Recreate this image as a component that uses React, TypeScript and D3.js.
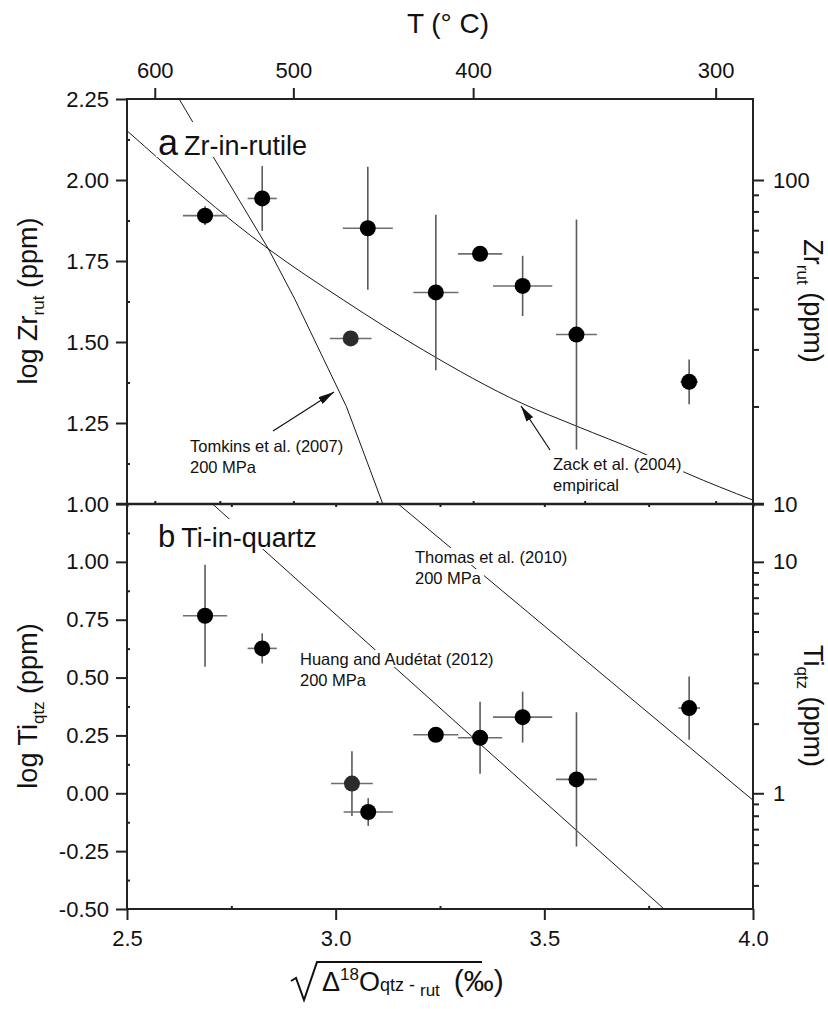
import React, { useRef, useEffect } from 'react';
import * as d3 from 'd3';

// tamanho e posição do quadro
const width = 828;
const height = 1009;
const left = 127;
const right = 753;
const top = 99;
const mid = 504;
const bottom = 909;
const font = 'Liberation Sans, Arial, Helvetica, sans-serif';

// painel a: Zr-in-rutile
const zrX = [2.687, 2.824, 3.036, 3.077, 3.24, 3.346, 3.448, 3.577, 3.847];
const zrLog = [1.89, 1.943, 1.511, 1.851, 1.653, 1.772, 1.673, 1.523, 1.377];
const zrXErr = [0.053, 0.035, 0.05, 0.06, 0.054, 0.053, 0.071, 0.049, 0.021];
const zrYErr = [0.029, 0.1, 0, 0.19, 0.24, 0.01, 0.093, 0.355, 0.069];
const zrFill = ['#000', '#000', '#2b2b2b', '#000', '#000', '#000', '#000', '#000', '#000'];

// painel b: Ti-in-quartz
const tiX = [2.687, 2.824, 3.039, 3.078, 3.24, 3.346, 3.448, 3.577, 3.847];
const tiLog = [0.767, 0.626, 0.042, -0.081, 0.253, 0.24, 0.329, 0.06, 0.368];
const tiXErr = [0.053, 0.035, 0.05, 0.059, 0.054, 0.053, 0.071, 0.049, 0.026];
const tiYErr = [0.22, 0.065, 0.14, 0.06, 0, 0.156, 0.11, 0.29, 0.137];
const tiFill = ['#000', '#000', '#2b2b2b', '#000', '#000', '#000', '#000', '#000', '#000'];

// curvas de calibração
const tomkinsX = [2.625, 2.711, 2.839, 2.903, 3.026, 3.113];
const tomkinsY = [2.25, 2.062, 1.787, 1.63, 1.3, 1.0];
const zackX = [2.5, 2.839, 3.018, 3.21, 3.446, 3.578, 3.729, 3.841, 4.0];
const zackY = [2.152, 1.787, 1.63, 1.475, 1.311, 1.24, 1.161, 1.095, 1.012];
const thomasX = [3.15, 4.0];
const thomasY = [1.25, -0.03];
const huangX = [2.705, 3.787];
const huangY = [1.25, -0.5];

// eixos
const xTicks = [2.5, 3.0, 3.5, 4.0];
const xMinor = [2.75, 3.25, 3.75];
const tempTicks = [600, 500, 400, 300];
const tempMinor = [550, 450, 350];
const tempConst = 2242; // sqrt(Δ) * T(K)
const zrTicksA = [1.0, 1.25, 1.5, 1.75, 2.0, 2.25];
const tiTicksB = [-0.5, -0.25, 0, 0.25, 0.5, 0.75, 1.0];
const zrPpmTicks = [10, 100];
const zrPpmMinor = [20, 30, 40, 50, 60, 70, 80, 90];
const tiPpmTicks = [1, 10];
const tiPpmMinor = [0.4, 0.5, 0.6, 0.7, 0.8, 0.9, 2, 3, 4, 5, 6, 7, 8, 9];

const fmt2 = (d: any) => d3.format('.2f')(d).replace('−', '-');

export default function App() {
    const svgRef = useRef<SVGSVGElement>(null);

    useEffect(() => {
        document.body.style.margin = '0';
        if (!svgRef.current) return;
        const svg = d3.select(svgRef.current);
        svg.selectAll('*').remove();

        const x = d3.scaleLinear().domain([2.5, 4.0]).range([left, right]);
        const yA = d3.scaleLinear().domain([1.0, 2.25]).range([mid, top]);
        const yB = d3.scaleLinear().domain([-0.5, 1.25]).range([bottom, mid]);
        const zrPpm = d3.scaleLog().domain([10, Math.pow(10, 2.25)]).range([mid, top]);
        const tiPpm = d3.scaleLog().domain([Math.pow(10, -0.5), Math.pow(10, 1.25)]).range([bottom, mid]);
        const tx = (t: number) => x(tempConst / (t + 273.15));

        svg.append('rect').attr('width', width).attr('height', height).attr('fill', '#fff');

        const defs = svg.append('defs');
        defs.append('marker')
            .attr('id', 'arrow')
            .attr('viewBox', '0 0 16 8')
            .attr('refX', 16).attr('refY', 4)
            .attr('markerUnits', 'userSpaceOnUse')
            .attr('markerWidth', 16).attr('markerHeight', 8)
            .attr('orient', 'auto')
            .append('path').attr('d', 'M0,0 L16,4 L0,8 z').attr('fill', '#111');

        // curvas
        const drawCurve = (xs: number[], ys: number[], y: any, curve: any) => {
            const pts = xs.map((v, i) => [v, ys[i]] as [number, number]);
            svg.append('path')
                .attr('d', d3.line<[number, number]>().x(d => x(d[0])).y(d => y(d[1])).curve(curve)(pts))
                .attr('fill', 'none')
                .attr('stroke', '#1a1a1a')
                .attr('stroke-width', 1);
        };
        drawCurve(tomkinsX, tomkinsY, yA, d3.curveLinear);
        drawCurve(zackX, zackY, yA, d3.curveMonotoneX);
        drawCurve(thomasX, thomasY, yB, d3.curveLinear);
        drawCurve(huangX, huangY, yB, d3.curveLinear);

        // rótulos com fundo branco
        const label = (px: number, py: number, parts: [string, number, number][]) => {
            const g = svg.append('g');
            const bg = g.append('rect').attr('fill', '#fff');
            const t = g.append('text').attr('x', px).attr('y', py).attr('font-family', font).attr('fill', '#111');
            parts.forEach(([s, fs, dx]) => t.append('tspan').attr('font-size', fs).attr('dx', dx).text(s));
            const b = (t.node() as SVGTextElement).getBBox();
            bg.attr('x', b.x - 2).attr('y', b.y).attr('width', b.width + 4).attr('height', py + 2 - b.y);
        };
        label(158, 155, [['a', 36, 0], ['Zr-in-rutile', 27, 6]]);
        label(158, 547, [['b', 31, 0], ['Ti-in-quartz', 27, 6]]);
        label(190, 452, [['Tomkins et al. (2007)', 16.5, 0]]);
        label(190, 473, [['200 MPa', 16.5, 0]]);
        label(553, 470, [['Zack et al. (2004)', 16.5, 0]]);
        label(553, 491, [['empirical', 16.5, 0]]);
        label(415, 563, [['Thomas et al. (2010)', 16.5, 0]]);
        label(415, 584, [['200 MPa', 16.5, 0]]);
        label(300, 665, [['Huang and Audétat (2012)', 16.5, 0]]);
        label(300, 686, [['200 MPa', 16.5, 0]]);

        // setas
        const arrow = (x1: number, y1: number, x2: number, y2: number) => {
            svg.append('line')
                .attr('x1', x1).attr('y1', y1).attr('x2', x2).attr('y2', y2)
                .attr('stroke', '#111').attr('stroke-width', 1.2)
                .attr('marker-end', 'url(#arrow)');
        };
        arrow(273, 431, 334, 392);
        arrow(550, 450, 521, 406);

        // pontos com barras de erro
        const drawPoints = (xs: number[], ys: number[], xe: number[], ye: number[], fills: string[], y: any) => {
            const g = svg.append('g');
            xs.forEach((v, i) => {
                g.append('line')
                    .attr('x1', x(v - xe[i])).attr('x2', x(v + xe[i]))
                    .attr('y1', y(ys[i])).attr('y2', y(ys[i]))
                    .attr('stroke', '#6e6e6e').attr('stroke-width', 1.6);
                if (ye[i] > 0) {
                    g.append('line')
                        .attr('x1', x(v)).attr('x2', x(v))
                        .attr('y1', y(ys[i] - ye[i])).attr('y2', y(ys[i] + ye[i]))
                        .attr('stroke', '#5a5a5a').attr('stroke-width', 1.6);
                }
            });
            g.selectAll('circle.pt')
                .data(xs)
                .enter()
                .append('circle')
                .attr('class', 'pt')
                .attr('cx', d => x(d))
                .attr('cy', (d, i) => y(ys[i]))
                .attr('r', 8)
                .attr('fill', (d, i) => fills[i]);
        };
        drawPoints(zrX, zrLog, zrXErr, zrYErr, zrFill, yA);
        drawPoints(tiX, tiLog, tiXErr, tiYErr, tiFill, yB);

        // estilo comum de eixos
        const styleAxis = (g: any, fs = 22) => {
            g.select('.domain').remove();
            g.selectAll('line').attr('stroke', '#222').attr('stroke-width', 2);
            g.selectAll('text').attr('font-family', font).attr('font-size', fs).attr('fill', '#111');
        };

        // eixo esquerdo
        styleAxis(svg.append('g').attr('transform', `translate(${left},0)`)
            .call(d3.axisLeft(yA).tickValues(zrTicksA).tickFormat(fmt2).tickSize(11).tickPadding(7)));
        styleAxis(svg.append('g').attr('transform', `translate(${left},0)`)
            .call(d3.axisLeft(yB).tickValues(tiTicksB).tickFormat(fmt2).tickSize(11).tickPadding(7)));
        styleAxis(svg.append('g').attr('transform', `translate(${left},0)`)
            .call(d3.axisRight(yA).tickValues([1.125, 1.375, 1.625, 1.875, 2.125]).tickFormat(() => '').tickSize(3)));
        styleAxis(svg.append('g').attr('transform', `translate(${left},0)`)
            .call(d3.axisRight(yB).tickValues([-0.375, -0.125, 0.125, 0.375, 0.625, 0.875, 1.125]).tickFormat(() => '').tickSize(3)));

        // eixo direito (ppm, log)
        styleAxis(svg.append('g').attr('transform', `translate(${right},0)`)
            .call(d3.axisRight(zrPpm).tickValues(zrPpmTicks).tickFormat(d3.format('d')).tickSize(11).tickPadding(9)));
        styleAxis(svg.append('g').attr('transform', `translate(${right},0)`)
            .call(d3.axisRight(zrPpm).tickValues(zrPpmMinor).tickFormat(() => '').tickSize(6)));
        styleAxis(svg.append('g').attr('transform', `translate(${right},0)`)
            .call(d3.axisRight(tiPpm).tickValues(tiPpmTicks).tickFormat(d3.format('d')).tickSize(11).tickPadding(9)));
        styleAxis(svg.append('g').attr('transform', `translate(${right},0)`)
            .call(d3.axisRight(tiPpm).tickValues(tiPpmMinor).tickFormat(() => '').tickSize(6)));

        // eixo inferior
        styleAxis(svg.append('g').attr('transform', `translate(0,${bottom})`)
            .call(d3.axisBottom(x).tickValues(xTicks).tickFormat(d3.format('.1f')).tickSize(11).tickPadding(10)));
        styleAxis(svg.append('g').attr('transform', `translate(0,${bottom})`)
            .call(d3.axisTop(x).tickValues(xMinor).tickFormat(() => '').tickSize(3)));

        // linha do meio: marcas pequenas
        styleAxis(svg.append('g').attr('transform', `translate(0,${mid})`)
            .call(d3.axisBottom(x).tickValues(xTicks.concat(xMinor)).tickFormat(() => '').tickSize(3)));
        const midT = svg.append('g');
        midT.selectAll('line')
            .data(tempTicks.concat(tempMinor))
            .enter()
            .append('line')
            .attr('x1', d => tx(d)).attr('x2', d => tx(d))
            .attr('y1', mid - 3).attr('y2', mid)
            .attr('stroke', '#222').attr('stroke-width', 2);

        // eixo superior: temperatura
        const topAxis = svg.append('g');
        topAxis.selectAll('line')
            .data(tempTicks)
            .enter()
            .append('line')
            .attr('x1', d => tx(d)).attr('x2', d => tx(d))
            .attr('y1', top).attr('y2', top - 11)
            .attr('stroke', '#222').attr('stroke-width', 2);
        topAxis.selectAll('text')
            .data(tempTicks)
            .enter()
            .append('text')
            .attr('x', d => tx(d))
            .attr('y', 78)
            .attr('text-anchor', 'middle')
            .attr('font-family', font)
            .attr('font-size', 22)
            .attr('fill', '#111')
            .text(d => d);

        // molduras
        svg.append('rect')
            .attr('x', left).attr('y', top).attr('width', right - left).attr('height', mid - top)
            .attr('fill', 'none').attr('stroke', '#222').attr('stroke-width', 2);
        svg.append('rect')
            .attr('x', left).attr('y', mid).attr('width', right - left).attr('height', bottom - mid)
            .attr('fill', 'none').attr('stroke', '#222').attr('stroke-width', 2);
        svg.append('line')
            .attr('x1', left - 11).attr('x2', right + 11).attr('y1', mid).attr('y2', mid)
            .attr('stroke', '#222').attr('stroke-width', 2.4);

        // títulos
        svg.append('text')
            .attr('x', 448).attr('y', 33)
            .attr('text-anchor', 'middle')
            .attr('font-family', font).attr('font-size', 28).attr('fill', '#111')
            .text('T (° C)');

        const sideTitle = (tr: string, main: string, sub: string) => {
            const t = svg.append('text')
                .attr('transform', tr)
                .attr('text-anchor', 'middle')
                .attr('font-family', font).attr('font-size', 27).attr('fill', '#111');
            t.append('tspan').text(main);
            t.append('tspan').attr('font-size', 17).attr('dy', 7).text(sub);
            t.append('tspan').attr('dy', -7).text(' (ppm)');
        };
        sideTitle('translate(37,301) rotate(-90)', 'log Zr', 'rut');
        sideTitle('translate(37,706) rotate(-90)', 'log Ti', 'qtz');
        sideTitle('translate(804,301) rotate(90)', 'Zr', 'rut');
        sideTitle('translate(804,706) rotate(90)', 'Ti', 'qtz');

        // título do eixo x com raiz
        svg.append('path')
            .attr('d', 'M291,981 L296,978 L304,1000 L317,962 L482,962')
            .attr('fill', 'none').attr('stroke', '#111').attr('stroke-width', 2);
        const xt = svg.append('text')
            .attr('x', 322).attr('y', 991)
            .attr('font-family', font).attr('font-size', 27).attr('fill', '#111');
        xt.append('tspan').text('Δ');
        xt.append('tspan').attr('font-size', 17).attr('dy', -11).text('18');
        xt.append('tspan').attr('dy', 11).text('O');
        xt.append('tspan').attr('font-size', 18).text('qtz - ');
        xt.append('tspan').attr('font-size', 17).attr('dy', 5).text('rut');
        xt.append('tspan').attr('dy', -5).attr('dx', 14).attr('font-size', 30).text('(‰)');
    }, []);

    return (
        <div>
            <svg ref={svgRef} width={width} height={height} style={{ display: 'block' }}></svg>
        </div>
    );
}
